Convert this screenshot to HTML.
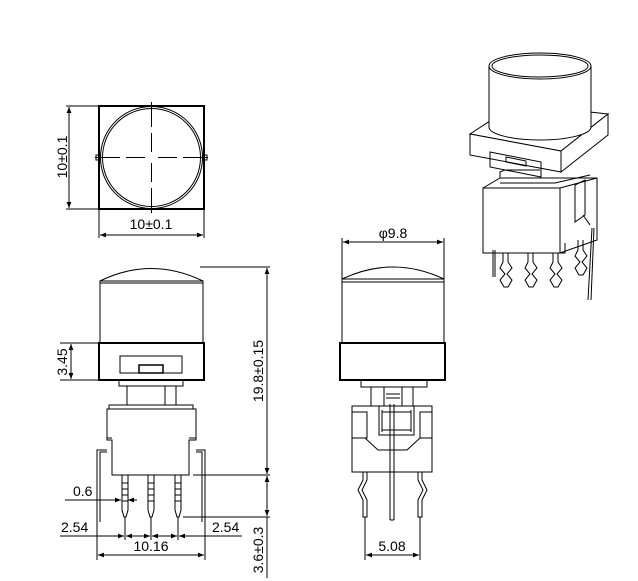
<!DOCTYPE html>
<html><head><meta charset="utf-8"><style>
html,body{margin:0;padding:0;background:#fff;}
svg{display:block;}
text{font-family:"Liberation Sans",sans-serif;font-size:14px;fill:#000;}
</style></head><body>
<svg width="638" height="581" viewBox="0 0 638 581" xmlns="http://www.w3.org/2000/svg">
<defs>
<marker id="a" viewBox="0 0 10 10" refX="10" refY="5" markerWidth="8" markerHeight="6" orient="auto-start-reverse" markerUnits="userSpaceOnUse"><path d="M0,1 L10,5 L0,9 z" fill="#000"/></marker>
</defs>
<g fill="none" stroke="#000" stroke-width="1">
<!-- TOP VIEW -->
<rect x="99" y="106" width="105" height="103" stroke-width="2"/>
<circle cx="151.5" cy="157.5" r="51"/>
<circle cx="151.5" cy="157.5" r="49"/>
<rect x="96" y="155" width="4" height="5"/><rect x="203" y="155" width="4" height="5"/>
<path d="M151.5 102 V127 M151.5 133 V152 M151.5 163 V182 M151.5 188 V213 M95 157.5 H120 M126 157.5 H145 M158 157.5 H177 M183 157.5 H208"/>
<path d="M66 106 H99 M66 209 H99"/>
<line x1="69" y1="107" x2="69" y2="208" marker-start="url(#a)" marker-end="url(#a)"/>
<path d="M99 209 V238 M204 209 V238"/>
<line x1="100" y1="235" x2="203" y2="235" marker-start="url(#a)" marker-end="url(#a)"/>

<!-- SIDE VIEW -->
<path d="M100 281 Q151 256 203 281"/>
<rect x="100" y="281" width="103" height="62"/>
<line x1="100" y1="283" x2="203" y2="283"/>
<rect x="99" y="343" width="105" height="37" stroke-width="2"/>
<rect x="120" y="356" width="62" height="17"/>
<rect x="139" y="365" width="24" height="8" stroke-width="1.5"/>
<rect x="119" y="380" width="64" height="6"/>
<rect x="127" y="386" width="49" height="19"/>
<line x1="165" y1="386" x2="165" y2="405"/>
<rect x="109" y="405" width="84" height="4"/>
<path d="M107 409 H196 V440 H189 V475 H112 V440 H107 Z"/>
<path d="M107 438 H112 M189 438 H196"/>
<path d="M107 450 H97 V522 M100 522 V452 H107 M196 450 H205 V522 M202 522 V452 H196"/>
<g>
<path d="M122 475 V510 L124 517 H126 L128 510 V475 M122 483 H128 M122 489 H128 M122 495 H128 M122 501 H128"/>
<path d="M148 475 V510 L150 517 H152 L154 510 V475 M148 483 H154 M148 489 H154 M148 495 H154 M148 501 H154"/>
<path d="M175 475 V510 L177 517 H179 L181 510 V475 M175 483 H181 M175 489 H181 M175 495 H181 M175 501 H181"/>
</g>
<path d="M200 267 H270 M193 475 H270 M183 517 H270"/>
<line x1="267" y1="268" x2="267" y2="474" marker-start="url(#a)" marker-end="url(#a)"/>
<line x1="267" y1="476" x2="267" y2="516" marker-start="url(#a)" marker-end="url(#a)"/>
<line x1="267" y1="517" x2="267" y2="578"/>
<path d="M60 343 H99 M60 380 H99"/>
<line x1="71" y1="344" x2="71" y2="379" marker-start="url(#a)" marker-end="url(#a)"/>
<line x1="65" y1="500" x2="121" y2="500" marker-end="url(#a)"/>
<line x1="137" y1="500" x2="128" y2="500" marker-end="url(#a)"/>
<path d="M97 522 V560 M125 517 V540 M151 517 V540 M178 517 V540 M205 522 V560"/>
<line x1="60" y1="536" x2="124" y2="536" marker-end="url(#a)"/>
<line x1="126" y1="536" x2="150" y2="536" marker-start="url(#a)" marker-end="url(#a)"/>
<line x1="152" y1="536" x2="177" y2="536" marker-start="url(#a)" marker-end="url(#a)"/>
<line x1="242" y1="536" x2="179" y2="536" marker-end="url(#a)"/>
<line x1="98" y1="555" x2="204" y2="555" marker-start="url(#a)" marker-end="url(#a)"/>

<!-- FRONT VIEW -->
<path d="M342 238 V280 M444 238 V280"/>
<line x1="343" y1="242" x2="443" y2="242" marker-start="url(#a)" marker-end="url(#a)"/>
<path d="M342 279 Q393 255 444 279"/>
<rect x="342" y="279" width="102" height="64"/>
<line x1="342" y1="282" x2="444" y2="282"/>
<rect x="340" y="343" width="105" height="37" stroke-width="2"/>
<rect x="361" y="380" width="66" height="7"/>
<rect x="371" y="387" width="42" height="19"/>
<path d="M384 387 V406 M402 387 V406 M386 394 H400 M386 398 H400"/>
<rect x="352" y="406" width="80" height="66"/>
<path d="M352 412 H367 V438 H352 M432 412 H420 V438 H432"/>
<path d="M379 406 V435 H414 V406 M382 410 V432 M411 410 V432 M382 412 H411 M382 430 H411"/>
<path d="M352 438 H365 L378 450 H407 L420 438 H432"/>
<path d="M390 404 V520 M394 404 V520 M390 520 H394"/>
<path d="M363 472 V480 L358 490 L363 500 V517 H367 V500 L362 490 L367 480 V472"/>
<path d="M418 472 V480 L423 490 L418 500 V517 H422 V500 L427 490 L422 480 V472"/>
<path d="M365 517 V560 M420 517 V560"/>
<line x1="366" y1="555" x2="419" y2="555" marker-start="url(#a)" marker-end="url(#a)"/>

<!-- ISO VIEW -->
<g fill="#fff">
<polygon points="470,134 516,104 608,114 561,151"/>
<polygon points="470,134 561,151 561,172 470,155"/>
<polygon points="561,151 608,114 608,135 561,172"/>
<path d="M489 66 V127 A51 13 0 0 0 591 127 V66 Z"/>
<ellipse cx="540" cy="66" rx="51" ry="13"/>
</g>
<ellipse cx="540" cy="66" rx="48" ry="11"/>
<path d="M490 152 L541 162 V177 L490 167 Z M506 157 L526 161 V166 L506 162 Z"/>
<path d="M483 188 L500 178 H597 V240 L560 253 H483 Z" fill="#fff"/>
<path d="M483 188 H560 V253 M560 188 L597 178 M500 178 V172 L505 170 H540 M500 183 H555 L590 175"/>
<path d="M575 185 L585 180 V215 L575 222 Z M583 215 L590 225"/>
<path d="M490 253 H565 V243"/>
<path d="M503 253 V262 L500 268 L505 274 L500 280 L504 287 H508 L512 280 L507 274 L512 268 L508 262 V253"/>
<path d="M528 253 V262 L525 268 L530 274 L525 280 L529 287 H533 L537 280 L532 274 L537 268 L533 262 V253"/>
<path d="M553 253 V262 L550 268 L555 274 L550 280 L554 287 H558 L562 280 L557 274 L562 268 L558 262 V253"/>
<path d="M578 240 V250 L575 256 L580 262 L575 268 L579 275 H583 L587 268 L582 262 L587 256 L583 250 V240"/>
<path d="M493 250 V277 M495 250 V277 M592 228 L588 300 M594 228 L591 300"/>
</g>

<!-- TEXT -->
<text x="151" y="229" text-anchor="middle">10±0.1</text>
<text transform="translate(67,157) rotate(-90)" text-anchor="middle">10±0.1</text>
<text transform="translate(67,362) rotate(-90)" text-anchor="middle">3.45</text>
<text transform="translate(263,371) rotate(-90)" text-anchor="middle">19.8±0.15</text>
<text transform="translate(263,550) rotate(-90)" text-anchor="middle">3.6±0.3</text>
<text x="73" y="496">0.6</text>
<text x="61" y="532">2.54</text>
<text x="212" y="532">2.54</text>
<text x="151" y="551" text-anchor="middle">10.16</text>
<text x="393" y="238" text-anchor="middle">φ9.8</text>
<text x="392" y="551" text-anchor="middle">5.08</text>
</svg>
</body></html>
